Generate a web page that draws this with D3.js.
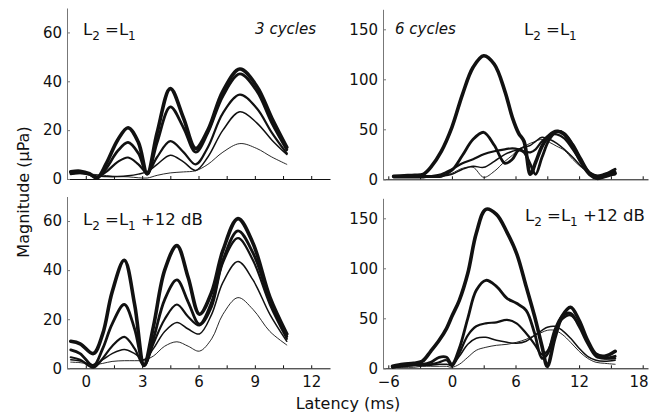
<!DOCTYPE html>
<html>
<head>
<meta charset="utf-8">
<script src="https://cdn.jsdelivr.net/npm/d3@7"></script>
<style>
  html, body { margin: 0; padding: 0; background: #fff; }
  svg { display: block; font-family: "DejaVu Sans", sans-serif; }
</style>
</head>
<body>
<svg id="chart" width="649" height="415"></svg>
<script>
// Latency knots (ms) for the 3-cycle and 6-cycle stimuli
const latency3Equal = [-0.8, -0.3, 0.2, 0.6, 1.1, 1.7, 2.25, 2.8, 3.27, 3.8, 4.5, 5.2, 5.85, 6.5, 7.3, 8.2, 9.1, 9.9, 10.7];
const latency3Plus = [-0.8, -0.3, 0.4, 0.9, 1.4, 2.05, 2.6, 3.1, 3.6, 4.2, 4.85, 5.45, 6.05, 6.7, 7.3, 8.1, 8.9, 9.8, 10.7];
const latency6Equal = [-5.5, -4.5, -3.5, -2.7, -2, -1, 0, 1, 2, 3, 4, 5, 5.7, 6.3, 6.8, 7.4, 7.9, 8.5, 9.2, 9.9, 10.6, 11.4, 12.2, 13, 13.7, 14.5, 15.4];
const latency6Plus = [-5.6, -4.6, -3.6, -2.8, -2, -1.2, -0.5, 0, 0.7, 1.5, 2.3, 3.2, 4.2, 5.2, 6.1, 7, 7.8, 8.5, 9, 9.7, 10.4, 11.2, 12, 12.8, 13.6, 14.4, 15.4];

// Magnitude (µPa), one row per stimulus level, lowest level first
const mag3Equal = [
  [2.0, 2.2, 2.0, 1.8, 1.4, 1.0, 0.9, 0.5, 0.4, 1.5, 2.5, 2.9, 3.4, 6, 11, 14.5, 12.5, 9, 6],
  [2.5, 2.6, 2.0, 1.2, 1.0, 1.0, 1.3, 2.0, 3.0, 6, 9.7, 7, 3.5, 9, 20, 27.5, 23, 16, 10],
  [2.0, 2.4, 1.8, 0.8, 3, 7, 8.8, 6, 2.5, 9, 15.5, 11, 6, 13, 27, 34.5, 29, 19, 10.5],
  [2.6, 2.8, 2.0, 0.5, 4.5, 11.5, 15, 10.5, 2.0, 15, 29.5, 21, 11, 19, 34, 43, 36, 23, 12],
  [3.0, 3.2, 2.2, 0.4, 6.5, 16, 21, 15, 2.2, 19, 37, 25, 12.5, 20, 36, 45, 38, 25, 13]
];
const mag3Plus = [
  [2.5, 2.3, 1.5, 2, 2.8, 3.1, 3.1, 3.3, 5, 9, 10.8, 9, 7, 12, 22, 28.8, 24, 15, 9.5],
  [3.5, 3, 1.5, 3.5, 6, 7.7, 6, 3.5, 8, 15, 18.7, 16, 14, 22, 35, 43.5, 36, 22, 11],
  [4.5, 3.5, 0.3, 4, 9, 12.8, 8, 1, 10, 20, 26, 21, 17.5, 25, 43, 53, 44, 26, 12],
  [7.5, 6, 1, 8, 18, 26, 16, 1, 12, 28, 36, 27, 18, 27, 44, 56, 47, 28, 13],
  [11, 10, 6, 14, 31, 44, 26, 1.5, 17, 40, 50, 37, 22, 31, 48, 61, 51, 29, 14]
];
const mag6Equal = [
  [2, 2, 2, 2, 2, 3, 6, 11, 12, 2, 8, 18, 24, 30, 33, 36, 38, 40, 37, 33, 29, 20, 12, 6, 4, 4, 4],
  [2, 2, 2, 2, 2, 3, 5, 10, 13, 12, 18, 25, 28, 30, 32, 34, 38, 42, 40, 36, 30, 22, 13, 7, 4, 6, 8],
  [2, 2, 2, 2, 3, 5, 10, 16, 20, 25, 28, 30, 31, 30, 28, 27, 30, 38, 44, 45, 41, 30, 17, 7, 3, 5, 8],
  [3, 3, 3, 3, 3, 3, 9, 24, 40, 47, 34, 16, 20, 29, 27, 15, 5, 22, 40, 48, 46, 35, 20, 6, 1, 5, 10],
  [3, 3.5, 4, 5, 12, 28, 52, 85, 112, 123.5, 115, 88, 62, 46, 38, 5, 17, 33, 44, 48, 45, 33, 17, 5, 1, 3, 6]
];
const mag6Plus = [
  [1, 1, 1, 2, 2, 2, 2, 1, 4, 11, 18, 21, 23, 24, 26, 29, 33, 36, 38, 38, 34, 26, 17, 10, 6, 5, 4],
  [1, 2, 3, 3, 3, 4, 4, 3, 12, 24, 30, 31, 28, 26, 25, 27, 33, 38, 41, 42, 38, 30, 20, 12, 8, 7, 8],
  [1, 2, 3, 3, 4, 6, 8, 2, 15, 33, 42, 45, 46, 48.5, 45, 35, 24, 14, 17, 35, 49, 53, 43, 27, 14, 10, 10],
  [1, 3, 4, 4, 6, 11, 11, 4, 20, 50, 78, 88, 82, 70, 65, 58, 35, 10, 14, 38, 52, 55, 42, 25, 12, 10, 12],
  [2, 4, 5, 7, 17, 28, 40, 52, 68, 95, 135, 159, 154, 136, 115, 82, 52, 22, 2, 30, 52, 61, 48, 28, 14, 12, 17]
];

// Axis ticks
const ticks3Major = [0, 3, 6, 9, 12];
const ticks3Minor = [0, 1.5, 3, 4.5, 6, 7.5, 9, 10.5, 12];
const ticks6Major = [-6, 0, 6, 12, 18];
const ticks6Minor = [-6, -3, 0, 3, 6, 9, 12, 15, 18];
const ticksMag3 = [0, 20, 40, 60];
const ticksMag6 = [0, 50, 100, 150];

const lineWidths = [0.9, 1.5, 2.2, 2.8, 3.6];

const width = 649;
const svg = d3.select("#chart");

const panels = [
  { t: latency3Equal, mags: mag3Equal, xd: [-1, 13], yd: [0, 70], x0: 67, x1: 330, y0: 179, y1: 8,
    xt: ticks3Minor, xl: null, yt: ticksMag3 },
  { t: latency6Equal, mags: mag6Equal, xd: [-6.5, 18.5], yd: [0, 170], x0: 383, x1: 648, y0: 179.3, y1: 9.3,
    xt: ticks6Minor, xl: null, yt: ticksMag6 },
  { t: latency3Plus, mags: mag3Plus, xd: [-1, 13], yd: [0, 70], x0: 67, x1: 330, y0: 368.3, y1: 196.5,
    xt: ticks3Minor, xl: ticks3Major, yt: ticksMag3 },
  { t: latency6Plus, mags: mag6Plus, xd: [-6.5, 18.5], yd: [0, 170], x0: 383, x1: 648, y0: 368.3, y1: 198.3,
    xt: ticks6Minor, xl: ticks6Major, yt: ticksMag6 }
];

panels.forEach(p => {
  const x = d3.scaleLinear().domain(p.xd).range([p.x0, p.x1]);
  const y = d3.scaleLinear().domain(p.yd).range([p.y0, p.y1]);
  const g = svg.append("g");

  // x axis: inward ticks, labels only on the bottom row
  const xAxis = g.append("g").attr("transform", `translate(0,${p.y0})`)
    .call(d3.axisBottom(x).tickValues(p.xt).tickSizeInner(-3).tickSizeOuter(0)
      .tickFormat(d => (p.xl && p.xl.includes(d)) ? d3.format("d")(d).replace("-", "\u2212") : ""));
  xAxis.select(".domain").attr("stroke", "#111").attr("stroke-width", 1);
  xAxis.selectAll(".tick line").attr("stroke", "#111");
  xAxis.selectAll(".tick text").attr("font-size", 15).attr("fill", "#111").attr("dy", "1.05em")
    .attr("font-family", "DejaVu Sans");
  // keep the last label inside the canvas
  xAxis.selectAll(".tick text").each(function (d) {
    const box = this.getBBox();
    const right = x(d) + box.x + box.width;
    if (right > width - 1) d3.select(this).attr("dx", (width - 1) - right);
  });

  // y axis
  const yAxis = g.append("g").attr("transform", `translate(${p.x0},0)`)
    .call(d3.axisLeft(y).tickValues(p.yt).tickSizeInner(-3).tickSizeOuter(0).tickPadding(5));
  yAxis.select(".domain").attr("stroke", "#777").attr("stroke-width", 1);
  yAxis.selectAll(".tick line").attr("stroke", "#777");
  yAxis.selectAll(".tick text").attr("font-size", 15).attr("fill", "#111")
    .attr("font-family", "DejaVu Sans");

  const line = d3.line()
    .x((d, i) => x(p.t[i]))
    .y(d => y(d))
    .curve(d3.curveCatmullRom.alpha(0.5));

  p.mags.forEach((series, k) => {
    g.append("path")
      .attr("d", line(series))
      .attr("fill", "none")
      .attr("stroke", "#111")
      .attr("stroke-width", lineWidths[k])
      .attr("stroke-linejoin", "round")
      .attr("stroke-linecap", "round");
  });
});

// Condition labels
function levelLabel(xPos, yPos, extra) {
  const t = svg.append("text").attr("x", xPos).attr("y", yPos)
    .attr("font-size", 16.5).attr("fill", "#111");
  t.append("tspan").text("L");
  t.append("tspan").attr("font-size", 12).attr("dy", 5).text("2");
  t.append("tspan").attr("dy", -5).text(" =L");
  t.append("tspan").attr("font-size", 12).attr("dy", 5).text("1");
  if (extra) t.append("tspan").attr("dy", -5).text(" +12 dB");
}
levelLabel(83, 34.5, false);
levelLabel(524, 34.5, false);
levelLabel(83, 225, true);
levelLabel(525, 221, true);

svg.append("text").attr("x", 316).attr("y", 34).attr("text-anchor", "end")
  .attr("font-size", 15).attr("font-style", "italic").attr("fill", "#111").text("3 cycles");
svg.append("text").attr("x", 395).attr("y", 33.5)
  .attr("font-size", 15).attr("font-style", "italic").attr("fill", "#111").text("6 cycles");

// Shared axis titles
svg.append("text").attr("transform", "translate(29,192) rotate(-90)")
  .attr("text-anchor", "middle").attr("font-size", 16).attr("fill", "#111")
  .text("Magnitude (\u03bcPa)");
svg.append("text").attr("x", 348).attr("y", 409)
  .attr("text-anchor", "middle").attr("font-size", 16).attr("fill", "#111")
  .text("Latency (ms)");
</script>
</body>
</html>
